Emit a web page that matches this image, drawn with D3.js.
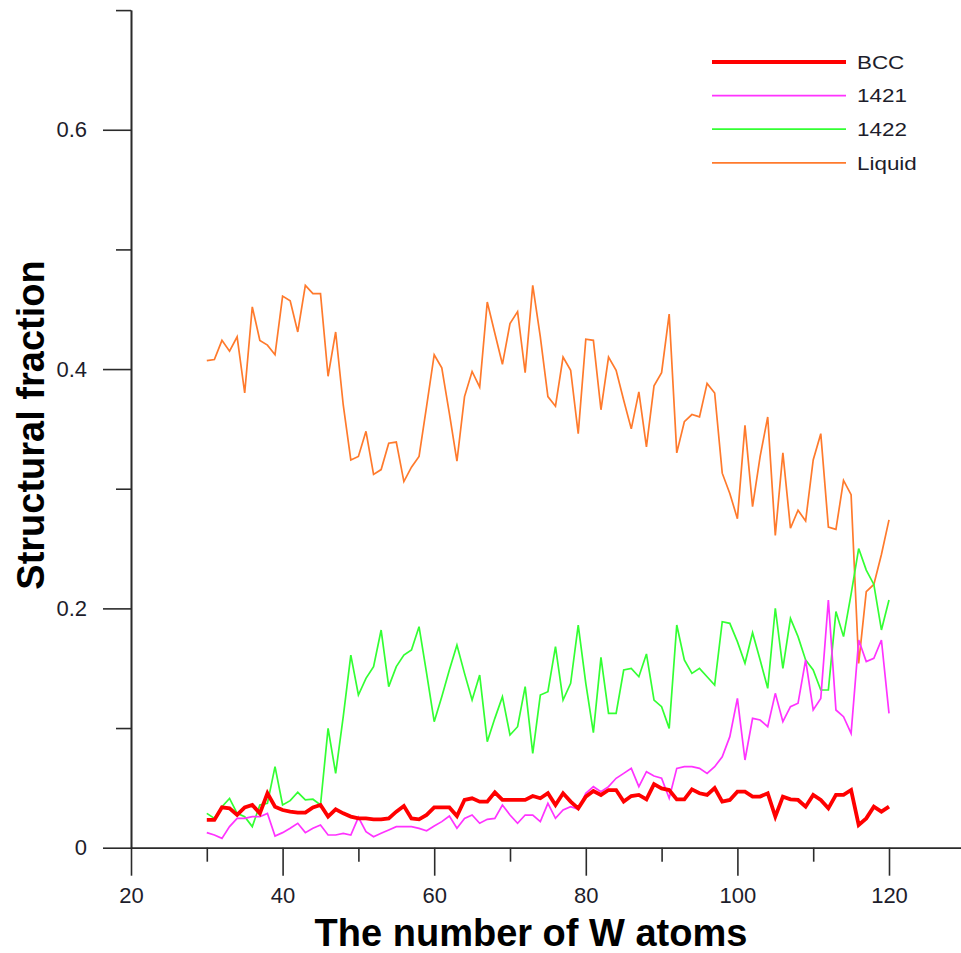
<!DOCTYPE html>
<html>
<head>
<meta charset="utf-8">
<script src="https://cdn.jsdelivr.net/npm/d3@7/dist/d3.min.js"></script>
<style>
  html, body { margin: 0; padding: 0; background: #fff; }
  svg { display: block; }
  text { font-family: "Liberation Sans", Arial, sans-serif; }
</style>
</head>
<body>
<svg id="chart" width="961" height="953"></svg>
<script>
// Number of W atoms in the cluster
const atoms = d3.range(30, 121);

// Structural fractions for each cluster size
const bcc = [
  0.0232, 0.0232, 0.0337, 0.0329, 0.0274, 0.0337, 0.0357, 0.0287, 0.0455, 0.0343,
  0.0315, 0.0301, 0.0293, 0.0293, 0.0337, 0.0357, 0.0260, 0.0321, 0.0287, 0.0260,
  0.0245, 0.0245, 0.0237, 0.0237, 0.0245, 0.0301, 0.0348, 0.0245, 0.0237, 0.0274,
  0.0337, 0.0337, 0.0337, 0.0265, 0.0399, 0.0413, 0.0385, 0.0385, 0.0463, 0.0399,
  0.0399, 0.0399, 0.0399, 0.0432, 0.0413, 0.0455, 0.0357, 0.0455, 0.0385, 0.0329,
  0.0427, 0.0474, 0.0441, 0.0482, 0.0482, 0.0385, 0.0432, 0.0441, 0.0404, 0.0532,
  0.0496, 0.0482, 0.0404, 0.0404, 0.0488, 0.0455, 0.0441, 0.0499, 0.0385, 0.0399,
  0.0468, 0.0468, 0.0427, 0.0427, 0.0455, 0.0260, 0.0427, 0.0404, 0.0399, 0.0343,
  0.0441, 0.0399, 0.0329, 0.0441, 0.0441, 0.0482, 0.0190, 0.0245, 0.0343, 0.0301,
  0.0343
];
const s1421 = [
  0.0126, 0.0106, 0.0078, 0.0176, 0.0245, 0.0245, 0.0259, 0.0259, 0.0287, 0.0098,
  0.0126, 0.0162, 0.0204, 0.0126, 0.0162, 0.0190, 0.0106, 0.0106, 0.0120, 0.0106,
  0.0254, 0.0134, 0.0092, 0.0120, 0.0148, 0.0176, 0.0176, 0.0176, 0.0162, 0.0142,
  0.0181, 0.0218, 0.0265, 0.0162, 0.0245, 0.0273, 0.0204, 0.0237, 0.0245, 0.0357,
  0.0273, 0.0204, 0.0273, 0.0273, 0.0218, 0.0371, 0.0245, 0.0315, 0.0343, 0.0321,
  0.0455, 0.0510, 0.0468, 0.0510, 0.0580, 0.0621, 0.0663, 0.0510, 0.0635, 0.0599,
  0.0580, 0.0413, 0.0663, 0.0677, 0.0677, 0.0663, 0.0621, 0.0677, 0.0760, 0.0928,
  0.1248, 0.0733, 0.1081, 0.1067, 0.1011, 0.1290, 0.1053, 0.1179, 0.1207, 0.1569,
  0.1151, 0.1248, 0.2070, 0.1151, 0.1095, 0.0956, 0.1736, 0.1555, 0.1583, 0.1736,
  0.1123
];
const s1422 = [
  0.0287, 0.0245, 0.0343, 0.0412, 0.0287, 0.0259, 0.0176, 0.0357, 0.0371, 0.0677,
  0.0357, 0.0393, 0.0463, 0.0399, 0.0405, 0.0357, 0.0997, 0.0621, 0.1095, 0.1610,
  0.1276, 0.1415, 0.1513, 0.1819, 0.1346, 0.1513, 0.1610, 0.1652, 0.1847, 0.1457,
  0.1053, 0.1262, 0.1485, 0.1694, 0.1457, 0.1234, 0.1443, 0.0886, 0.1081, 0.1262,
  0.0942, 0.1011, 0.1346, 0.0788, 0.1276, 0.1304, 0.1680, 0.1234, 0.1374, 0.1861,
  0.1374, 0.0961, 0.1591, 0.1123, 0.1123, 0.1485, 0.1499, 0.1429, 0.1619, 0.1234,
  0.1179, 0.0997, 0.1861, 0.1569, 0.1457, 0.1499, 0.1429, 0.1359, 0.1889, 0.1875,
  0.1722, 0.1541, 0.1797, 0.1569, 0.1332, 0.2001, 0.1499, 0.1917, 0.1764, 0.1569,
  0.1485, 0.1318, 0.1318, 0.1973, 0.1764, 0.2120, 0.2500, 0.2320, 0.2200, 0.1820,
  0.2070
];
const liquid = [
  0.407, 0.408, 0.424, 0.415, 0.427, 0.380, 0.452, 0.424, 0.420, 0.412,
  0.461, 0.457, 0.431, 0.470, 0.463, 0.463, 0.394, 0.431, 0.370, 0.324,
  0.327, 0.348, 0.312, 0.316, 0.338, 0.339, 0.306, 0.318, 0.327, 0.369,
  0.412, 0.401, 0.363, 0.323, 0.377, 0.398, 0.385, 0.456, 0.430, 0.404,
  0.438, 0.448, 0.397, 0.470, 0.427, 0.377, 0.369, 0.410, 0.399, 0.346,
  0.425, 0.424, 0.366, 0.410, 0.399, 0.374, 0.350, 0.381, 0.335, 0.386,
  0.397, 0.446, 0.330, 0.356, 0.362, 0.360, 0.388, 0.380, 0.313, 0.296,
  0.275, 0.353, 0.285, 0.327, 0.360, 0.261, 0.330, 0.267, 0.282, 0.273,
  0.324, 0.346, 0.268, 0.266, 0.307, 0.295, 0.154, 0.214, 0.220, 0.245,
  0.274
];

const seriesNames = ["BCC", "1421", "1422", "Liquid"];
const seriesColors = ["#ff0000", "#ff33ff", "#33ff33", "#ff7a2c"];
const seriesWidths = [3.8, 1.7, 1.7, 1.7];
const seriesValues = [bcc, s1421, s1422, liquid];

const xMajorTicks = [20, 40, 60, 80, 100, 120];
const xMinorTicks = [30, 50, 70, 90, 110];
const yMajorTicks = [0, 0.2, 0.4, 0.6];
const yMinorTicks = [0.1, 0.3, 0.5, 0.7];

const svg = d3.select("#chart");
const x = d3.scaleLinear().domain([20, 130]).range([131, 964.8]);
const y = d3.scaleLinear().domain([0, 0.7]).range([847.7, 10.1]);

const axisColor = "#2b2b2b";
const labelColor = "#1d1d2b";

function styleAxis(g) {
  g.selectAll("path.domain").attr("stroke", axisColor).attr("stroke-width", 1.6);
  g.selectAll(".tick line").attr("stroke", axisColor).attr("stroke-width", 1.6);
  g.selectAll(".tick text")
    .attr("fill", labelColor)
    .style("font-family", "'Liberation Sans', Arial, sans-serif")
    .style("font-size", "22px");
}

// x axis
svg.append("g")
  .attr("transform", `translate(0,${y(0)})`)
  .call(d3.axisBottom(x).tickValues(xMajorTicks).tickSize(28).tickSizeOuter(0).tickPadding(12)
        .tickFormat(d3.format("d")))
  .call(styleAxis);
svg.append("g")
  .attr("transform", `translate(0,${y(0)})`)
  .call(d3.axisBottom(x).tickValues(xMinorTicks).tickSize(14).tickSizeOuter(0).tickFormat(""))
  .call(styleAxis);

// y axis
svg.append("g")
  .attr("transform", `translate(${x(20)},0)`)
  .call(d3.axisLeft(y).tickValues(yMajorTicks).tickSize(28).tickSizeOuter(0).tickPadding(16)
        .tickFormat(d => d === 0 ? "0" : d3.format(".1f")(d)))
  .call(styleAxis);
svg.append("g")
  .attr("transform", `translate(${x(20)},0)`)
  .call(d3.axisLeft(y).tickValues(yMinorTicks).tickSize(15).tickSizeOuter(0).tickFormat(""))
  .call(styleAxis);

// Axis titles
svg.append("text")
  .attr("x", 531).attr("y", 946)
  .attr("text-anchor", "middle")
  .attr("font-weight", "bold")
  .attr("font-size", 38)
  .attr("fill", "#000")
  .text("The number of W atoms");

svg.append("text")
  .attr("transform", "translate(44,425) rotate(-90)")
  .attr("text-anchor", "middle")
  .attr("font-weight", "bold")
  .attr("font-size", 38)
  .attr("fill", "#000")
  .text("Structural fraction");

// Series lines
const line = d3.line()
  .x((d, i) => x(atoms[i]))
  .y(d => y(d));

const drawOrder = [3, 2, 1, 0];
drawOrder.forEach(k => {
  svg.append("path")
    .datum(seriesValues[k])
    .attr("fill", "none")
    .attr("stroke", seriesColors[k])
    .attr("stroke-width", seriesWidths[k])
    .attr("stroke-linejoin", "miter")
    .attr("d", line);
});

// Legend
const legend = svg.append("g");
seriesNames.forEach((name, k) => {
  const ly = 62 + k * 33.6;
  legend.append("line")
    .attr("x1", 712).attr("x2", 846)
    .attr("y1", ly).attr("y2", ly)
    .attr("stroke", seriesColors[k])
    .attr("stroke-width", seriesWidths[k]);
  legend.append("text")
    .attr("transform", `translate(857,${ly}) scale(1.18,1)`)
    .attr("dy", "0.36em")
    .attr("font-size", 19)
    .attr("fill", labelColor)
    .text(name);
});
</script>
</body>
</html>
